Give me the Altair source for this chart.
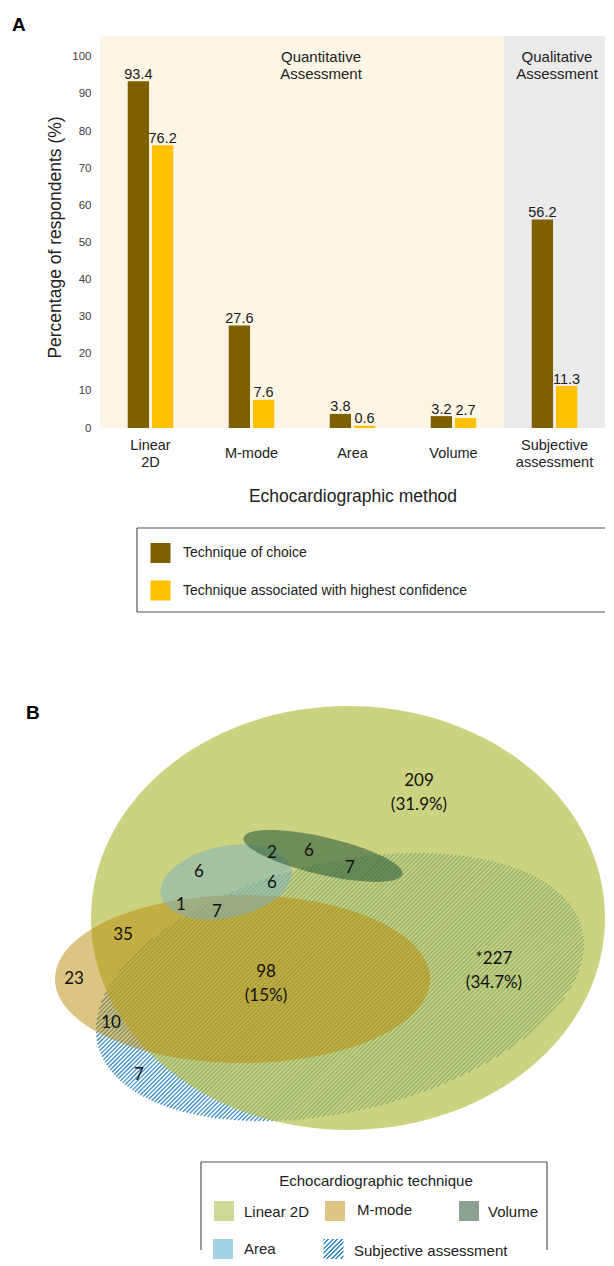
import math
import altair as alt
import pandas as pd

# ---------------- Panel A data ----------------
methods = ["Linear\n2D", "M-mode", "Area", "Volume", "Subjective\nassessment"]
technique_of_choice = [93.4, 27.6, 3.8, 3.2, 56.2]
highest_confidence = [76.2, 7.6, 0.6, 2.7, 11.3]
series = ["Technique of choice", "Technique associated with highest confidence"]
method_region = ["Quantitative", "Quantitative", "Quantitative", "Quantitative", "Qualitative"]
section_titles = ["Quantitative\nAssessment", "Qualitative\nAssessment"]
y_ticks = list(range(0, 101, 10))

# ---------------- Panel B data ----------------
sets = ["Linear 2D", "M-mode", "Area", "Volume", "Subjective assessment"]
region_labels = ["209\n(31.9%)", "2", "6", "7", "6", "6", "1", "7", "35", "23",
                 "98\n(15%)", "*227\n(34.7%)", "10", "7"]

# ---------------- layout / style (pixel coordinates of the figure) ----------------
series_colors = ["#7f6000", "#ffc000"]
region_fill = {"Quantitative": "#fdf6e4", "Qualitative": "#ebebeb"}
section_x = [321, 557]
section_y = [57, 57]

label_x = [419, 272, 309, 350, 199, 272, 181, 217, 123, 74, 266, 494, 111, 139]
label_y = [781, 853, 851, 868, 872, 883, 905, 912, 935, 979, 972, 959, 1023, 1075]

ell_cx = [348, 242.5, 226, 323, 340]
ell_cy = [918, 979, 882, 856, 987]
ell_a = [257, 187.5, 66.5, 81.5, 249]
ell_b = [212, 84, 35.8, 18.8, 124.5]
ell_rot = [0, 0, 348.3, 13, 346.7]
ell_fill = ["#b5c04c", "#b98905", "#7dafc3", "#325f3c", None]
ell_opacity = [0.7, 0.5, 0.5, 0.6, 1.0]
hatch_color = "#3a8cc4"
clear = "rgba(255,255,255,0)"

legA_sw_x = [150.5, 150.5]
legA_sw_y = [543, 580.5]
legA_txt_x = [183, 183]
legA_txt_y = [553, 591]

# legend B entries (index into sets) and their placement
legB_order = [0, 1, 3, 2, 4]
legB_sw_x = [214, 325, 459, 213, 323.5]
legB_sw_y = [1201, 1201, 1201, 1239, 1239]
legB_sw_col = ["#cfd995", "#dfc487", "#8ba192", "#a6d2e8", None]
legB_txt_x = [244, 357, 488, 244, 354]
legB_txt_y = [1212, 1210, 1212, 1249, 1251]

W_PLOT, H_PLOT = 505, 392
FONT = "Liberation Sans"
VFONT = "Lato"

# pixel scales: data values are figure pixel coordinates
xs = alt.Scale(domain=[100, 605], nice=False, zero=False)
ys = alt.Scale(domain=[36, 428], nice=False, zero=False, reverse=True)


def PX(f="x"):
    return alt.X(f"{f}:Q", scale=xs, axis=None)


def PY(f="y"):
    return alt.Y(f"{f}:Q", scale=ys, axis=None)


def hatch_gradient(w, h, rot_deg, period=3.0, duty=0.45, color=hatch_color):
    th = rot_deg if rot_deg <= 180 else rot_deg - 360
    phi = math.radians(-45 - th)
    dx, dy = math.cos(phi), math.sin(phi)
    bx, by = dx / w, dy / h
    gx, gy = -by, bx
    n = math.hypot(gx, gy)
    gx, gy = gx / n, gy / n
    s = gx + gy
    dist = abs(-w * dy + h * dx)
    k = max(2, int(round(dist / period)))
    stops = []
    for i in range(k):
        o0, o1, o2 = i / k, (i + duty) / k, (i + 1) / k
        stops += [
            {"offset": round(o0, 5), "color": color},
            {"offset": round(o1, 5), "color": color},
            {"offset": round(o1, 5), "color": clear},
            {"offset": round(o2, 5), "color": clear},
        ]
    return {"gradient": "linear", "x1": 0, "y1": 0, "x2": gx * s, "y2": gy * s, "stops": stops}


def hatch_chords(cx, cy, a, b, rot_deg, spacing=3.0):
    """Diagonal hatch strokes clipped to a rotated ellipse (pattern fill)."""
    th = math.radians(rot_deg)
    ux, uy = math.cos(th), math.sin(th)
    vx, vy = -math.sin(th), math.cos(th)
    r2 = 1 / math.sqrt(2)
    dx, dy = r2, -r2
    nx, ny = r2, r2
    nu, nv = nx * ux + ny * uy, nx * vx + ny * vy
    du, dv = dx * ux + dy * uy, dx * vx + dy * vy
    ext = math.sqrt((a * nu) ** 2 + (b * nv) ** 2)
    A = du ** 2 / a ** 2 + dv ** 2 / b ** 2
    rows = []
    s = -ext + spacing / 2
    while s < ext:
        B = 2 * s * (nu * du / a ** 2 + nv * dv / b ** 2)
        C = s ** 2 * (nu ** 2 / a ** 2 + nv ** 2 / b ** 2) - 1
        disc = B * B - 4 * A * C
        if disc > 0:
            t1 = (-B - math.sqrt(disc)) / (2 * A)
            t2 = (-B + math.sqrt(disc)) / (2 * A)
            px, py = cx + s * nx, cy + s * ny
            rows.append({"x": px + t1 * dx, "y": py + t1 * dy,
                         "x2": px + t2 * dx, "y2": py + t2 * dy})
        s += spacing
    return pd.DataFrame(rows)


# ---------------- Panel A: bars ----------------
bars_df = pd.DataFrame({
    "method": methods * 2,
    "series": [series[0]] * len(methods) + [series[1]] * len(methods),
    "value": technique_of_choice + highest_confidence,
})
bg_df = pd.DataFrame({"method": methods, "region": method_region})
bg_df["col"] = bg_df["region"].map(region_fill)

X = alt.X(
    "method:N", sort=methods,
    scale=alt.Scale(domain=methods, paddingInner=0.53, paddingOuter=0.265),
    axis=alt.Axis(
        title="Echocardiographic method", labelExpr="split(datum.label, '\\n')",
        labelAngle=0, ticks=False, domain=False, grid=False,
        labelFont=FONT, labelFontSize=14.5, labelColor="#222222",
        labelBaseline="middle", labelLineHeight=17,
        labelPadding={"condition": {"test": "indexof(datum.value, '\\n') >= 0", "value": 17},
                      "value": 25},
        titleFont=FONT, titleFontSize=17.5, titleFontWeight="normal", titleColor="#222222",
        titleX=252.5, titleY=73, titleBaseline="alphabetic", titleAlign="center",
    ),
)
Y = alt.Y(
    "value:Q", scale=alt.Scale(domain=[0, 105.6], nice=False, zero=True),
    axis=alt.Axis(
        values=y_ticks, title="Percentage of respondents (%)", format="d",
        ticks=False, domain=False, grid=False,
        labelFont=FONT, labelFontSize=11.5, labelColor="#404040", labelPadding=9,
        titleFont=FONT, titleFontSize=17.5, titleFontWeight="normal", titleColor="#222222",
        titleX=-40, titleY=201, titleAngle=270, titleBaseline="alphabetic", titleAlign="center",
    ),
)
XO = alt.XOffset("series:N", sort=series,
                 scale=alt.Scale(domain=series, paddingInner=0.12, paddingOuter=0.04))

background = alt.Chart(bg_df).mark_bar(width=alt.RelativeBandSize(band=1 / 0.47)).encode(
    x=X, y=alt.value(0), y2=alt.value(H_PLOT), fill=alt.Fill("col:N", scale=None)
)
bars = alt.Chart(bars_df).mark_bar().encode(
    x=X, xOffset=XO, y=Y,
    color=alt.Color("series:N", scale=alt.Scale(domain=series, range=series_colors), legend=None),
)
bar_text = alt.Chart(bars_df).mark_text(
    baseline="alphabetic", dy=-2.5, font=FONT, fontSize=14.5, color="#1a1a1a"
).encode(x=X, xOffset=XO, y=Y, text=alt.Text("value:Q", format=".1f"))

panelA = alt.layer(background, bars, bar_text)

# ---------------- pixel layers ----------------
layers = []

# bounds markers (page corners)
corner_df = pd.DataFrame({"x": [8, 605], "x2": [9, 606], "y": [8, 1249], "y2": [9, 1250]})
layers.append(alt.Chart(corner_df).mark_rect(color="white").encode(
    x=PX(), x2="x2:Q", y=PY(), y2="y2:Q"))

# panel letters
letters_df = pd.DataFrame({"t": ["A", "B"], "x": [12, 26], "y": [31, 719]})
layers.append(alt.Chart(letters_df).mark_text(
    align="left", baseline="alphabetic", font=FONT, fontSize=19, fontWeight="bold", color="#000"
).encode(x=PX(), y=PY(), text="t:N"))

# section titles
sec_df = pd.DataFrame({"t": section_titles, "x": section_x, "y": section_y})
layers.append(alt.Chart(sec_df).mark_text(
    align="center", baseline="middle", lineBreak="\n", lineHeight=17,
    font=FONT, fontSize=15, color="#222222"
).encode(x=PX(), y=PY(), text="t:N"))

# legend A
legA_box = pd.DataFrame({"x": [137, 137, 137], "x2": [605, 137, 605],
                         "y": [528, 528, 612], "y2": [528, 612, 612]})
layers.append(alt.Chart(legA_box).mark_rule(color="#555555", strokeWidth=1.2).encode(
    x=PX(), x2="x2:Q", y=PY(), y2="y2:Q"))
legA_sw = pd.DataFrame({"x": legA_sw_x, "x2": [v + 20 for v in legA_sw_x],
                        "y": legA_sw_y, "y2": [v + 20 for v in legA_sw_y], "col": series_colors})
layers.append(alt.Chart(legA_sw).mark_rect().encode(
    x=PX(), x2="x2:Q", y=PY(), y2="y2:Q", fill=alt.Fill("col:N", scale=None)))
legA_txt = pd.DataFrame({"t": series, "x": legA_txt_x, "y": legA_txt_y})
layers.append(alt.Chart(legA_txt).mark_text(
    align="left", baseline="middle", font=FONT, fontSize=14, color="#222222"
).encode(x=PX(), y=PY(), text="t:N"))

# ellipses: hatched set first (pattern of strokes), then the translucent fills
hi = 4
layers.append(alt.Chart(hatch_chords(ell_cx[hi], ell_cy[hi], ell_a[hi], ell_b[hi], ell_rot[hi]))
              .mark_rule(color=hatch_color, strokeWidth=1.3)
              .encode(x=PX(), x2="x2:Q", y=PY(), y2="y2:Q"))
for i in [0, 1, 2, 3]:
    r = ell_b[i] / ell_a[i]
    path = f"M-1,0A1,{r:.5f},0,1,0,1,0A1,{r:.5f},0,1,0,-1,0Z"
    edf = pd.DataFrame({"x": [ell_cx[i]], "y": [ell_cy[i]], "set": [sets[i]]})
    layers.append(alt.Chart(edf).mark_point(
        shape=path, size=(2 * ell_a[i]) ** 2, angle=ell_rot[i], filled=True,
        fill=ell_fill[i], fillOpacity=ell_opacity[i], opacity=1, strokeWidth=0
    ).encode(x=PX(), y=PY()))

# region counts
lab_df = pd.DataFrame({"t": region_labels, "x": label_x, "y": label_y})
layers.append(alt.Chart(lab_df).mark_text(
    align="center", baseline="middle", lineBreak="\n", lineHeight=23.5,
    font=VFONT, fontSize=17, color="#111111"
).encode(x=PX(), y=PY(), text="t:N"))

# legend B
legB_box = pd.DataFrame({"x": [201, 201, 547], "x2": [201, 547, 547],
                         "y": [1162, 1162, 1162], "y2": [1250, 1162, 1250]})
layers.append(alt.Chart(legB_box).mark_rule(color="#555555", strokeWidth=1.2).encode(
    x=PX(), x2="x2:Q", y=PY(), y2="y2:Q"))
legB_title = pd.DataFrame({"t": ["Echocardiographic technique"], "x": [376], "y": [1181]})
layers.append(alt.Chart(legB_title).mark_text(
    align="center", baseline="middle", font=FONT, fontSize=15, color="#222222"
).encode(x=PX(), y=PY(), text="t:N"))
solid_idx = [k for k in range(len(legB_order)) if legB_sw_col[k] is not None]
legB_sw = pd.DataFrame({
    "x": [legB_sw_x[k] for k in solid_idx], "x2": [legB_sw_x[k] + 20 for k in solid_idx],
    "y": [legB_sw_y[k] for k in solid_idx], "y2": [legB_sw_y[k] + 20 for k in solid_idx],
    "col": [legB_sw_col[k] for k in solid_idx]})
layers.append(alt.Chart(legB_sw).mark_rect().encode(
    x=PX(), x2="x2:Q", y=PY(), y2="y2:Q", fill=alt.Fill("col:N", scale=None)))
hk = 4
hatch_sw = pd.DataFrame({"x": [legB_sw_x[hk]], "x2": [legB_sw_x[hk] + 20],
                         "y": [legB_sw_y[hk]], "y2": [legB_sw_y[hk] + 20]})
layers.append(alt.Chart(hatch_sw).mark_rect(fill=hatch_gradient(20, 20, 0)).encode(
    x=PX(), x2="x2:Q", y=PY(), y2="y2:Q"))
legB_txt = pd.DataFrame({"t": [sets[k] for k in legB_order], "x": legB_txt_x, "y": legB_txt_y})
layers.append(alt.Chart(legB_txt).mark_text(
    align="left", baseline="middle", font=FONT, fontSize=15, color="#222222"
).encode(x=PX(), y=PY(), text="t:N"))

pixel = alt.layer(*layers)

chart = alt.layer(panelA, pixel).resolve_scale(x="independent", y="independent").properties(
    width=W_PLOT, height=H_PLOT, padding=0, background="white"
).configure_view(strokeWidth=0)

chart.save("out.html", embed_options={"renderer": "svg", "actions": False})
